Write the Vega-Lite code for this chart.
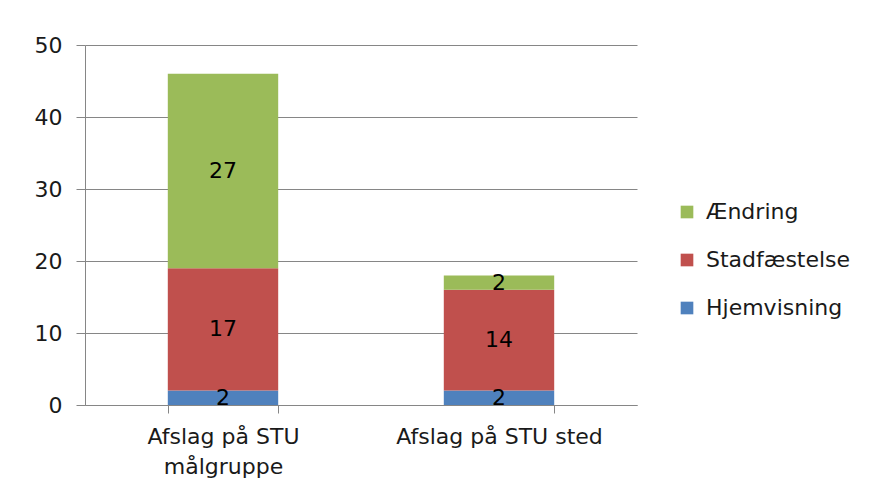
{
  "$schema": "https://vega.github.io/schema/vega-lite/v6.json",
  "width": 552,
  "height": 360,
  "autosize": {"type": "none"},
  "padding": {"left": 85, "top": 45, "right": 234, "bottom": 91},
  "background": "white",
  "config": {
    "font": "DejaVu Sans",
    "view": {"stroke": null},
    "axis": {"labelFont": "DejaVu Sans", "labelColor": "#1a1a1a", "labelFontSize": 22, "labelLimit": 0}
  },
  "data": {
    "values": [
      {"kategori": "Afslag på STU målgruppe", "type": "Hjemvisning", "ord": 1, "antal": 2},
      {"kategori": "Afslag på STU målgruppe", "type": "Stadfæstelse", "ord": 2, "antal": 17},
      {"kategori": "Afslag på STU målgruppe", "type": "Ændring", "ord": 3, "antal": 27},
      {"kategori": "Afslag på STU sted", "type": "Hjemvisning", "ord": 1, "antal": 2},
      {"kategori": "Afslag på STU sted", "type": "Stadfæstelse", "ord": 2, "antal": 14},
      {"kategori": "Afslag på STU sted", "type": "Ændring", "ord": 3, "antal": 2}
    ]
  },
  "transform": [
    {"stack": "antal", "groupby": ["kategori"], "sort": [{"field": "ord", "order": "ascending"}], "as": ["y0", "y1"]},
    {"calculate": "(datum.y0 + datum.y1) / 2", "as": "mid"}
  ],
  "encoding": {
    "x": {
      "field": "kategori",
      "type": "nominal",
      "sort": null,
      "scale": {"paddingInner": 0.6, "paddingOuter": 0.3},
      "axis": {
        "title": null,
        "labelAngle": 0,
        "labelExpr": "datum.value == 'Afslag på STU målgruppe' ? ['Afslag på STU', 'målgruppe'] : datum.value",
        "labelLineHeight": 30,
        "labelPadding": 13,
        "labelBaseline": "top",
        "labelLimit": 0,
        "tickBand": "extent",
        "tickSize": 8,
        "tickColor": "#868686",
        "domainColor": "#868686",
        "ticks": true,
        "grid": false
      }
    }
  },
  "layer": [
    {
      "mark": {"type": "bar"},
      "encoding": {
        "y": {
          "field": "y0",
          "type": "quantitative",
          "scale": {"domain": [0, 50], "nice": false},
          "axis": {
            "title": null,
            "values": [0, 10, 20, 30, 40, 50],
            "tickSize": 9,
            "tickColor": "#868686",
            "domainColor": "#868686",
            "gridColor": "#868686",
            "grid": true,
            "labelPadding": 14
          }
        },
        "y2": {"field": "y1"},
        "color": {
          "field": "type",
          "type": "nominal",
          "scale": {
            "domain": ["Ændring", "Stadfæstelse", "Hjemvisning"],
            "range": ["#9BBB59", "#C0504D", "#4F81BD"]
          },
          "legend": {
            "title": null,
            "orient": "none",
            "legendX": 591,
            "legendY": 156,
            "padding": 0,
            "symbolType": "square",
            "symbolSize": 160,
            "symbolStrokeWidth": 0,
            "labelFontSize": 22,
            "labelFont": "DejaVu Sans",
            "labelColor": "#1a1a1a",
            "labelOffset": 8,
            "labelLimit": 0,
            "rowPadding": 26
          }
        }
      }
    },
    {
      "mark": {"type": "text", "fontSize": 22, "color": "#000000", "baseline": "middle", "font": "DejaVu Sans"},
      "encoding": {
        "y": {"field": "mid", "type": "quantitative"},
        "text": {"field": "antal", "type": "quantitative"}
      }
    }
  ]
}
